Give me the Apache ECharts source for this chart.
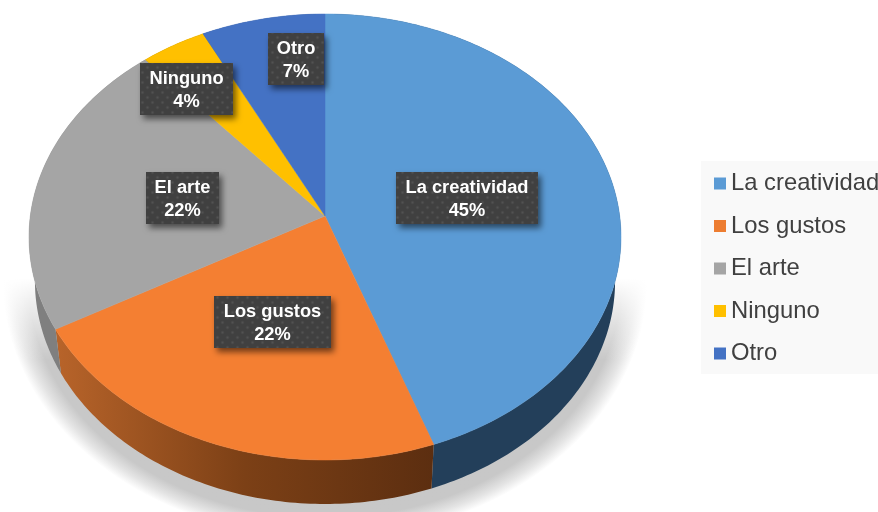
<!DOCTYPE html>
<html>
<head>
<meta charset="utf-8">
<style>html,body{margin:0;padding:0;background:#fff}#c{width:878px;height:512px}</style>
<script src="https://cdn.jsdelivr.net/npm/echarts@6/dist/echarts.min.js"></script>
</head>
<body>
<div id="c"></div>
<script>
const categories = ['La creatividad', 'Los gustos', 'El arte', 'Ninguno', 'Otro'];
const shares = [44.5, 22.3, 21.8, 3.9, 7.4];
const topColors = ['#5b9bd5', '#f47f32', '#a5a5a5', '#ffc000', '#4472c4'];
const legendColors = ['#5b9bd5', '#ed7d31', '#a5a5a5', '#ffc000', '#4472c4'];
const labelCenters = [[467, 198], [272.5, 322], [182.5, 198], [186.5, 89], [296, 59]];
const labelWidths = [142, 117, 73, 93, 56];

// projection of the pie disc (perspective view)
const CX = 325, APEX_Y = 216, TOP_Y = 14, BOTTOM_Y = 460, RX = 296, DEPTH = 44, BASE_SCALE = 0.98;
const persp = (2 * APEX_Y - TOP_Y - BOTTOM_Y) / (BOTTOM_Y - TOP_Y);
const A = APEX_Y - TOP_Y + TOP_Y * persp;
const K = RX * Math.sqrt(1 - persp * persp);
function project(share) {
  const t = share / 100 * Math.PI * 2, u = Math.sin(t), v = -Math.cos(t), d = 1 + persp * v;
  return [CX + K * u / d, (A * v + APEX_Y) / d];
}
function lower(p) { return [CX + (p[0] - CX) * BASE_SCALE, p[1] + DEPTH]; }

const total = shares.reduce((a, b) => a + b, 0);
let acc = 0;
const spans = shares.map(s => { const a = acc; acc += s / total * 100; return [a, acc]; });

function arc(a, b) {
  const pts = [], n = Math.max(2, Math.ceil((b - a) * 4));
  for (let i = 0; i <= n; i++) pts.push(project(a + (b - a) * i / n));
  return pts;
}

const pat = document.createElement('canvas');
pat.width = pat.height = 10;
(function () {
  const g = pat.getContext('2d');
  g.fillStyle = '#404040'; g.fillRect(0, 0, 10, 10);
  [[2.5, 2.5], [7.5, 7.5]].forEach(c => {
    const r = g.createRadialGradient(c[0], c[1], 0, c[0], c[1], 2.2);
    r.addColorStop(0, '#525252'); r.addColorStop(1, '#404040');
    g.fillStyle = r; g.fillRect(c[0] - 2.5, c[1] - 2.5, 5, 5);
  });
})();

const wallFill = [
  '#233f5a',
  { type: 'linear', x: 0, y: 0, x2: 1, y2: 0, colorStops: [{ offset: 0, color: '#b8642a' }, { offset: 0.5, color: '#7c4016' }, { offset: 1, color: '#5c2e10' }] },
  '#7f7f7f', '#8a6a00', '#2b4a80'
];

function renderSlice(i) {
  return function (params, api) {
    const a = api.value(0), b = api.value(1), val = api.value(2);
    const rim = arc(a, b);
    const base = rim.map(lower).reverse();
    const c = labelCenters[i], w = labelWidths[i];
    return {
      type: 'group',
      children: [
        { type: 'polygon', z2: 1, shape: { points: rim.concat(base) }, style: { fill: wallFill[i] } },
        { type: 'polygon', z2: 10, shape: { points: [[CX, APEX_Y]].concat(rim) }, style: { fill: topColors[i], stroke: topColors[i], lineWidth: 0.5 } },
        { type: 'rect', z2: 100, shape: { x: c[0] - w / 2, y: c[1] - 26, width: w, height: 52 },
          style: { fill: { image: pat, repeat: 'repeat' }, shadowBlur: 6, shadowOffsetX: 3, shadowOffsetY: 4, shadowColor: 'rgba(0,0,0,0.55)' } },
        { type: 'text', z2: 101, x: c[0], y: c[1] + 1,
          style: { text: categories[i] + '\n' + Math.round(val / total * 100) + '%', fill: '#fff', font: 'bold 18.3px "Liberation Sans", Arial, sans-serif', align: 'center', verticalAlign: 'middle', lineHeight: 23 } }
      ]
    };
  };
}

const sliceSeries = categories.map((name, i) => ({
  type: 'custom', name, coordinateSystem: 'none', z: 3, silent: true, animation: false,
  itemStyle: { color: legendColors[i] },
  renderItem: renderSlice(i),
  data: [[spans[i][0], spans[i][1], shares[i]]],
  encode: { value: [0, 1, 2] }
}));

const shadowSeries = {
  type: 'custom', name: 'shadow', coordinateSystem: 'none', z: 1, silent: true, animation: false,
  renderItem: function () {
    return {
      type: 'group',
      children: [
        { type: 'circle', x: CX, y: 282, scaleX: 322, scaleY: 256, z2: 1, shape: { cx: 0, cy: 0, r: 1 },
          style: { fill: { type: 'radial', x: 0.5, y: 0.5, r: 0.5, colorStops: [{ offset: 0, color: '#c6c6c6' }, { offset: 0.92, color: '#c8c8c8' }, { offset: 0.965, color: '#e4e4e4' }, { offset: 1, color: '#ffffff' }] } } },
        { type: 'rect', z2: 2, shape: { x: 0, y: 20, width: 660, height: 340 },
          style: { fill: { type: 'linear', x: 0, y: 0, x2: 0, y2: 1, colorStops: [{ offset: 0, color: 'rgba(255,255,255,1)' }, { offset: 0.76, color: 'rgba(255,255,255,1)' }, { offset: 1, color: 'rgba(255,255,255,0)' }] } } }
      ]
    };
  },
  data: [[0]]
};

const chart = echarts.init(document.getElementById('c'), null, { renderer: 'canvas' });
chart.setOption({
  animation: false,
  backgroundColor: '#fff',
  legend: {
    data: categories, orient: 'vertical', left: 701, top: 161,
    backgroundColor: '#f9f9f9', padding: [9, 0, 7, 13], itemWidth: 12, itemHeight: 12, itemGap: 15.5,
    icon: 'rect', selectedMode: false,
    textStyle: { color: '#404040', fontSize: 23.8, lineHeight: 27, fontFamily: '"Liberation Sans", Arial, sans-serif' }
  },
  series: [shadowSeries].concat(sliceSeries)
});
</script>
</body>
</html>
